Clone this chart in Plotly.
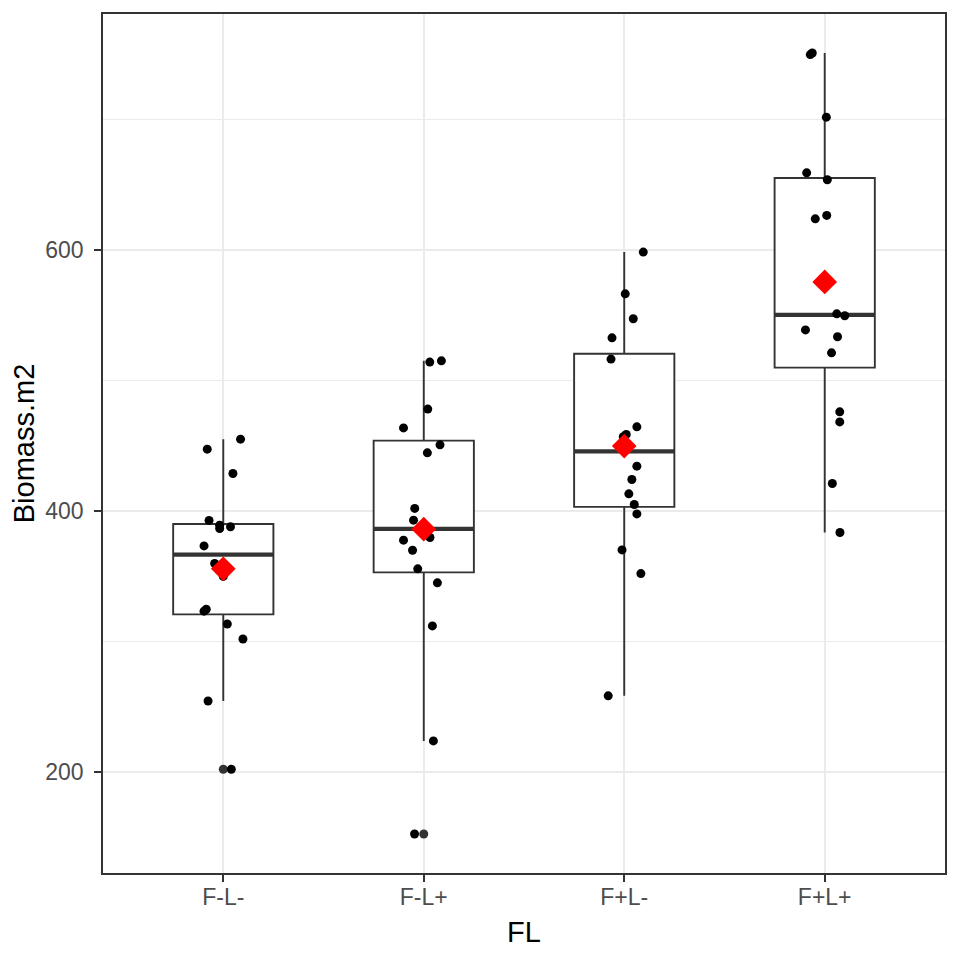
import numpy as np
import plotly.graph_objects as go

categories = ["F-L-", "F-L+", "F+L-", "F+L+"]

biomass_FmLm = [455.2, 447.5, 428.9, 392.9, 389.3, 388.0, 386.7, 373.4,
                359.9, 350.0, 324.9, 323.4, 313.6, 302.1, 254.6, 202.3]
biomass_FmLp = [515.2, 514.2, 478.2, 463.8, 450.8, 444.7, 402.1, 393.1,
                379.8, 377.8, 370.1, 355.8, 345.1, 312.1, 224.0, 152.7]
biomass_FpLm = [598.5, 566.5, 547.4, 532.8, 516.5, 464.6, 458.8, 457.0,
                434.5, 424.3, 413.3, 405.1, 397.9, 370.3, 352.2, 258.5]
biomass_FpLp = [751.0, 749.8, 701.9, 659.2, 653.9, 626.6, 624.0, 551.2,
                549.7, 538.9, 533.6, 521.3, 476.1, 468.4, 421.2, 383.7]

# horizontal jitter (category units)
jitter_FmLm = [0.086, -0.080, 0.048, -0.071, -0.018, 0.036, -0.018, -0.096,
               -0.043, 0.000, -0.085, -0.096, 0.020, 0.098, -0.076, 0.040]
jitter_FmLp = [0.088, 0.030, 0.020, -0.101, 0.081, 0.018, -0.045, -0.051,
               0.031, -0.101, -0.056, -0.030, 0.068, 0.043, 0.048, -0.046]
jitter_FpLm = [0.095, 0.005, 0.045, -0.061, -0.066, 0.063, 0.010, -0.005,
               0.063, 0.038, 0.023, 0.050, 0.063, -0.011, 0.083, -0.080]
jitter_FpLp = [-0.062, -0.072, 0.008, -0.090, 0.013, 0.010, -0.047, 0.060,
               0.100, -0.096, 0.064, 0.034, 0.075, 0.075, 0.038, 0.076]

groups = [biomass_FmLm, biomass_FmLp, biomass_FpLm, biomass_FpLp]
jitters = [jitter_FmLm, jitter_FmLp, jitter_FpLm, jitter_FpLp]

pos = np.arange(1, len(categories) + 1)
GREY20 = "#333333"

q1s, meds, q3s, lows, highs, means = [], [], [], [], [], []
out_x, out_y = [], []
for p, g in zip(pos, groups):
    v = np.array(g)
    q1, med, q3 = np.percentile(v, [25, 50, 75])
    iqr = q3 - q1
    lo = v[v >= q1 - 1.5 * iqr].min()
    hi = v[v <= q3 + 1.5 * iqr].max()
    q1s.append(q1); meds.append(med); q3s.append(q3)
    lows.append(lo); highs.append(hi); means.append(v.mean())
    for o in v[(v < lo) | (v > hi)]:
        out_x.append(p); out_y.append(o)

fig = go.Figure()

fig.add_trace(go.Box(
    x=pos, q1=q1s, median=meds, q3=q3s, lowerfence=lows, upperfence=highs,
    width=0.5, whiskerwidth=0, fillcolor="white",
    line=dict(color=GREY20, width=1.9), boxpoints=False, showlegend=False,
    hoverinfo="skip"))

# thick median bars (ggplot fatten)
mx, my = [], []
for p, m in zip(pos, meds):
    mx += [p - 0.25, p + 0.25, None]
    my += [m, m, None]
fig.add_trace(go.Scatter(x=mx, y=my, mode="lines",
                         line=dict(color=GREY20, width=4.2),
                         showlegend=False, hoverinfo="skip"))

# boxplot outliers
fig.add_trace(go.Scatter(x=out_x, y=out_y, mode="markers",
                         marker=dict(color=GREY20, size=9),
                         showlegend=False, hoverinfo="skip"))

# jittered points
jx, jy = [], []
for p, g, j in zip(pos, groups, jitters):
    jx += list(p + np.array(j))
    jy += list(g)
fig.add_trace(go.Scatter(x=jx, y=jy, mode="markers",
                         marker=dict(color="black", size=9),
                         showlegend=False, hoverinfo="skip"))

# means
fig.add_trace(go.Scatter(x=pos, y=means, mode="markers",
                         marker=dict(color="red", size=19, symbol="diamond"),
                         showlegend=False, hoverinfo="skip"))

allv = np.concatenate([np.array(g) for g in groups])
rng = allv.max() - allv.min()
yrange = [allv.min() - 0.05 * rng, allv.max() + 0.05 * rng]

FONT = "Liberation Sans, Arial, sans-serif"
fig.update_layout(
    width=960, height=960,
    margin=dict(l=103, r=15, t=14, b=87),
    paper_bgcolor="white", plot_bgcolor="white",
    font=dict(family=FONT),
    xaxis=dict(
        range=[0.4, 4.6], tickvals=pos, ticktext=categories,
        showgrid=True, gridcolor="#EBEBEB", gridwidth=2, zeroline=False,
        showline=True, mirror=True, linecolor=GREY20, linewidth=1.5,
        ticks="outside", ticklen=7, tickwidth=1.5, tickcolor=GREY20,
        tickfont=dict(size=23, color="#4D4D4D", family=FONT),
        ticklabelstandoff=-4,
        title=dict(text="FL", font=dict(size=29, color="black", family=FONT),
                   standoff=12),
    ),
    yaxis=dict(
        range=yrange, tickvals=[200, 400, 600],
        showgrid=True, gridcolor="#EBEBEB", gridwidth=2, zeroline=False,
        showline=True, mirror=True, linecolor=GREY20, linewidth=1.5,
        ticks="outside", ticklen=7, tickwidth=1.5, tickcolor=GREY20,
        tickfont=dict(size=23, color="#4D4D4D", family=FONT),
        ticklabelstandoff=6,
        minor=dict(tickvals=[300, 500, 700], showgrid=True,
                   gridcolor="#EBEBEB", gridwidth=1, ticks=""),
        title=dict(text="Biomass.m2", font=dict(size=29, color="black", family=FONT),
                   standoff=2),
    ),
)

fig.write_html("out.html")
